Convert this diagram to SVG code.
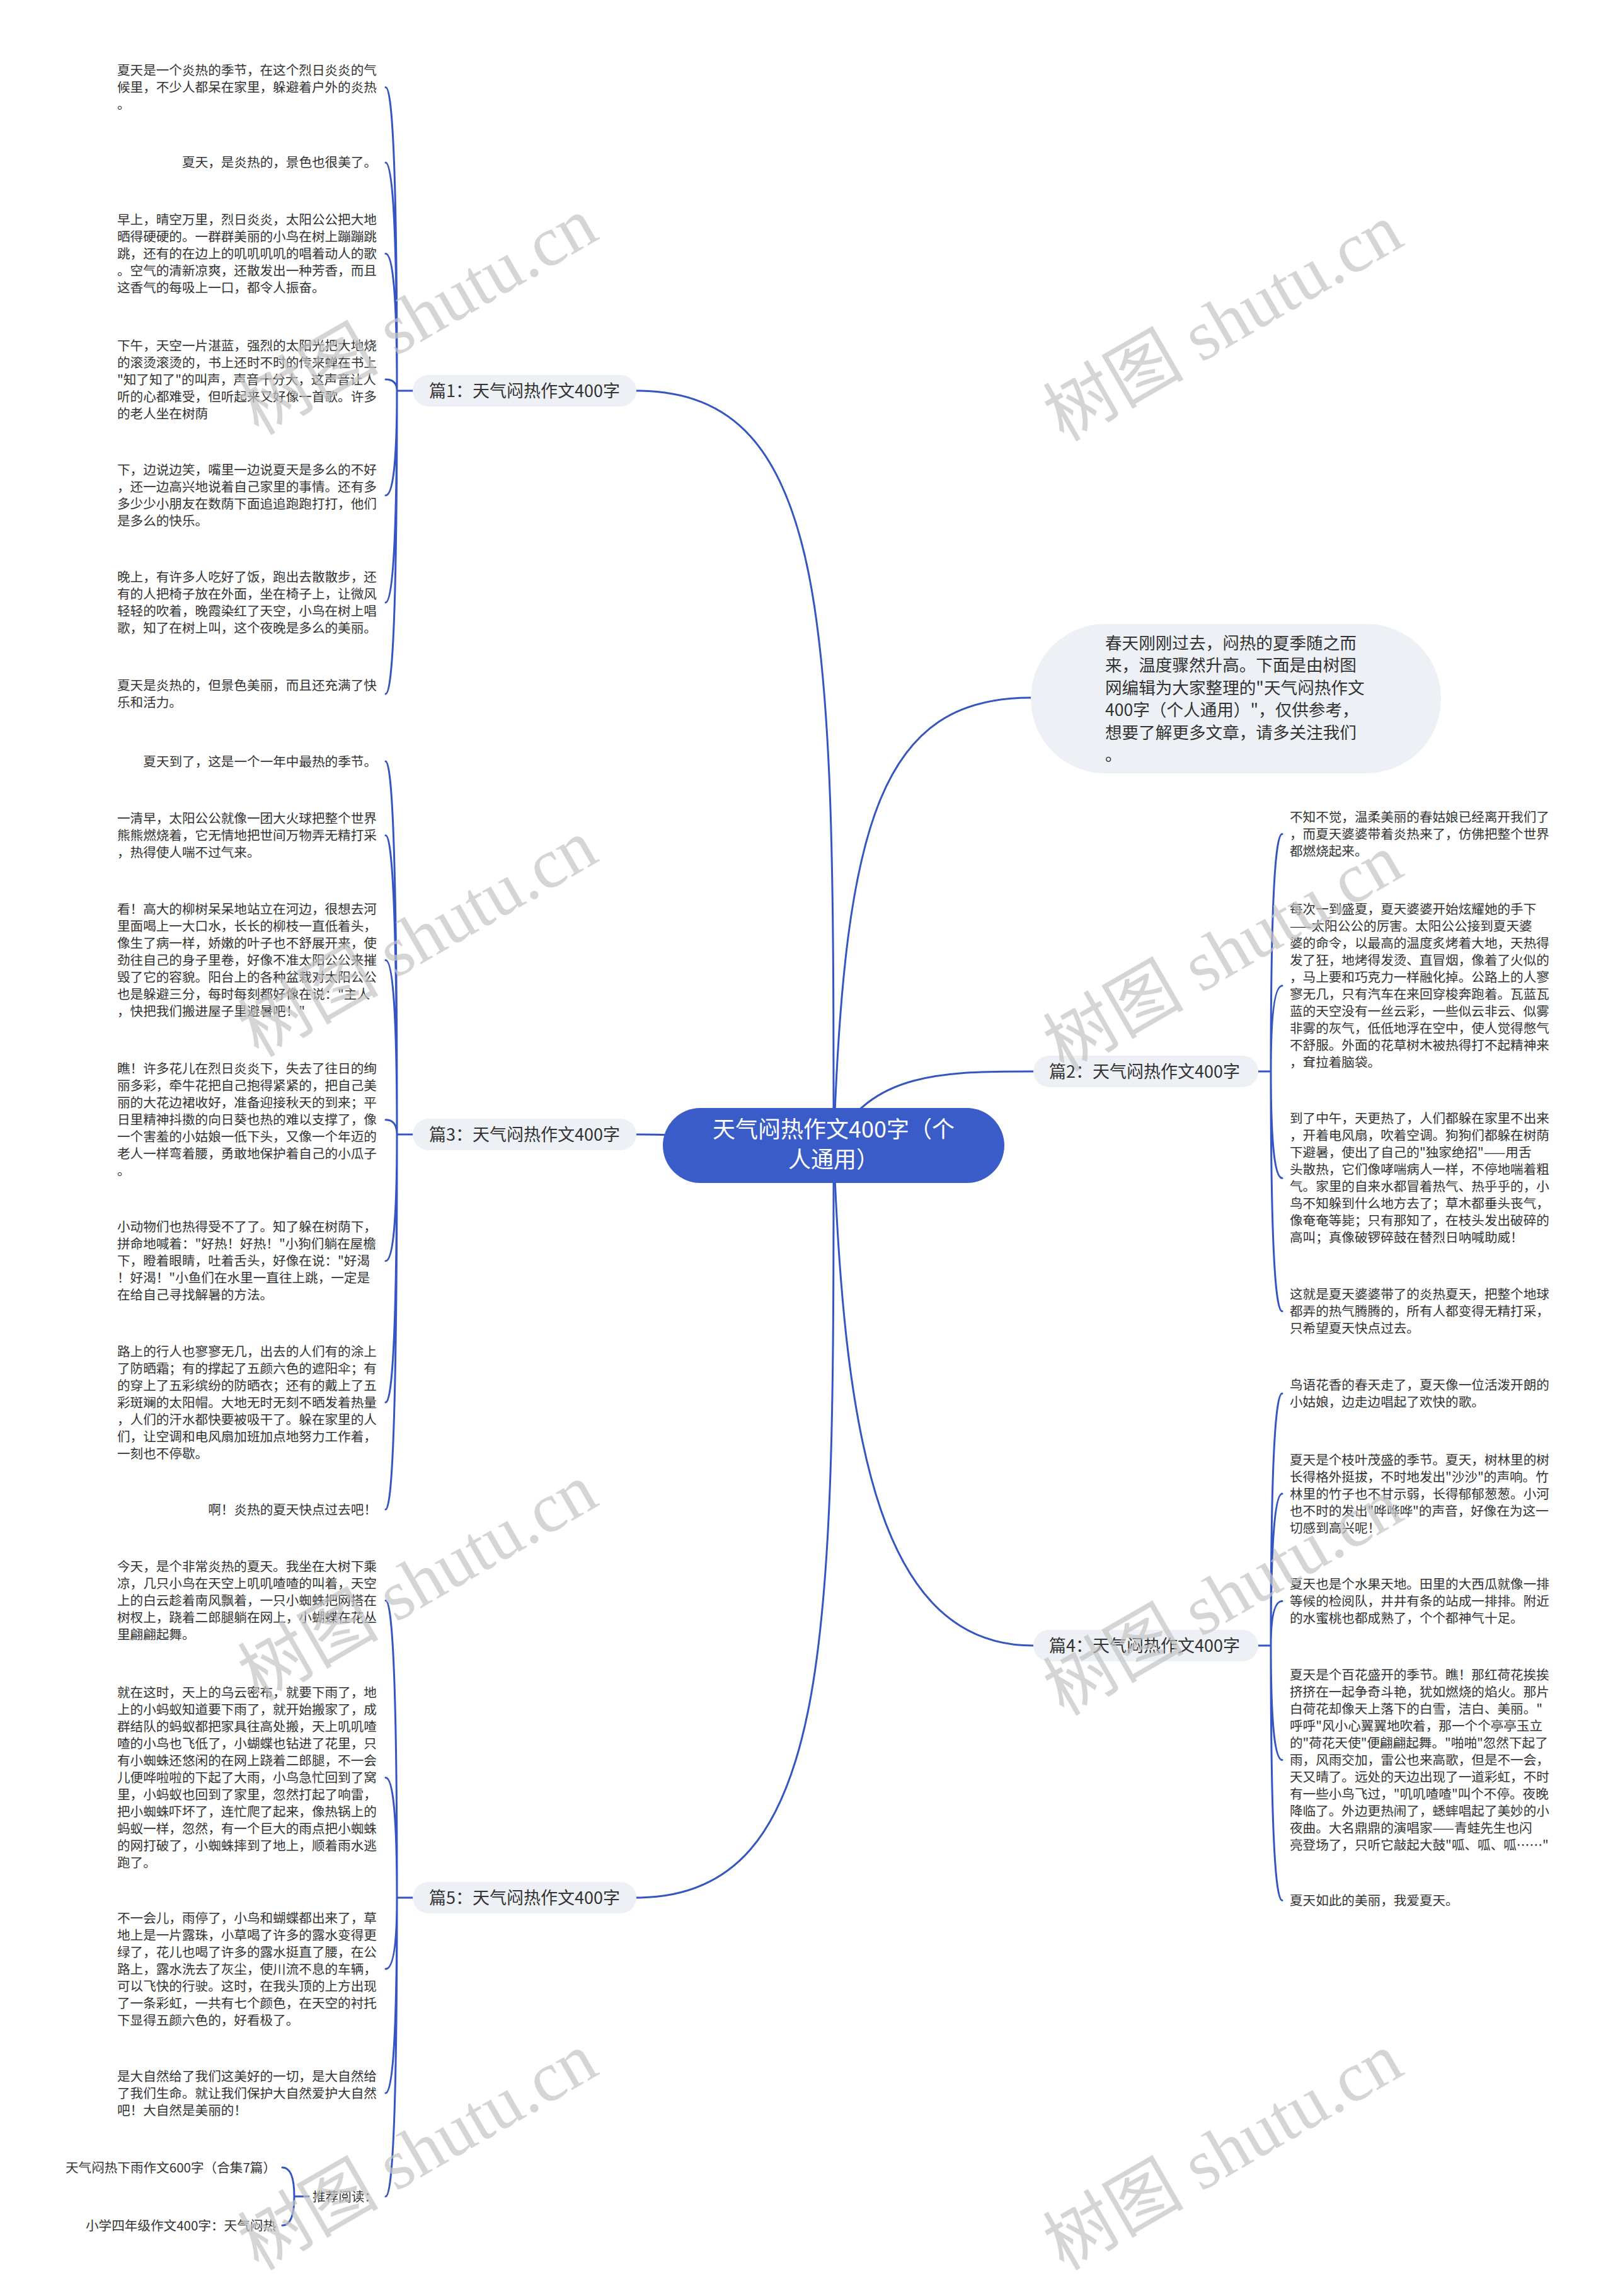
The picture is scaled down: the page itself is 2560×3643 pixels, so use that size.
<svg xmlns="http://www.w3.org/2000/svg" width="2560" height="3643" viewBox="0 0 2560 3643">
<style>
text{font-family:"Noto Sans CJK SC","Noto Sans",sans-serif}
.t{font-size:20.6px;fill:#333}
.b{font-size:27px;fill:#333}
.r{font-size:36px;fill:#fff}
.i{font-size:26.6px;fill:#333}
.c{fill:none;stroke:#3555c2;stroke-width:3;stroke-linecap:round}
.pill{fill:#edf0f5}
.wm{font-family:"Liberation Serif","Noto Sans CJK SC",serif;font-size:112px;fill:#c4c4c4;opacity:0.7}
</style>
<rect width="2560" height="3643" fill="#fff"/>
<g id="connectors">
<path class="c" d="M1323,1818 C1323,1000 1323,620 1010,620"/>
<path class="c" d="M1323,1818 C1200,1818 1150,1800 1010,1800"/>
<path class="c" d="M1323,1818 C1323,2600 1323,3011 1010,3011"/>
<path class="c" d="M1323,1818 C1340,1300 1400,1107 1636,1107"/>
<path class="c" d="M1323,1818 C1380,1700 1500,1700 1640,1700"/>
<path class="c" d="M1323,1818 C1340,2300 1400,2611 1640,2611"/>
<path class="c" d="M655,620 L630,620 M630,620 Q630,138.5 612,138.5 M630,620 Q630,258 612,258 M630,620 Q630,402.5 612,402.5 M630,620 Q630,602 612,602 M630,620 Q630,786 612,786 M630,620 Q630,956 612,956 M630,620 Q630,1101 612,1101"/>
<path class="c" d="M655,1800 L630,1800 M630,1800 Q630,1208 612,1208 M630,1800 Q630,1325.6 612,1325.6 M630,1800 Q630,1523.6 612,1523.6 M630,1800 Q630,1776.8 612,1776.8 M630,1800 Q630,2000.7 612,2000.7 M630,1800 Q630,2225.1 612,2225.1 M630,1800 Q630,2395 612,2395"/>
<path class="c" d="M655,3011 L630,3011 M630,3011 Q630,2539.6 612,2539.6 M630,3011 Q630,2820.4 612,2820.4 M630,3011 Q630,3124.1 612,3124.1 M630,3011 Q630,3321 612,3321 M630,3011 Q630,3485 612,3485"/>
<path class="c" d="M490,3485 L467,3485 M467,3485 Q467,3439 448,3439 M467,3485 Q467,3531 448,3531"/>
<path class="c" d="M1997,1700 L2017,1700 M2017,1700 Q2017,1323.2 2035,1323.2 M2017,1700 Q2017,1564.1 2035,1564.1 M2017,1700 Q2017,1869.3 2035,1869.3 M2017,1700 Q2017,2080.5 2035,2080.5"/>
<path class="c" d="M1997,2611 L2017,2611 M2017,2611 Q2017,2211.1 2035,2211.1 M2017,2611 Q2017,2370 2035,2370 M2017,2611 Q2017,2540.5 2035,2540.5 M2017,2611 Q2017,2792.5 2035,2792.5 M2017,2611 Q2017,3015.3 2035,3015.3"/>
</g>
<g id="root">
<rect x="1052" y="1758" width="542" height="119" rx="59.5" fill="#3a5cc8"/>
<text class="r" x="1323" y="1805" text-anchor="middle">天气闷热作文400字（个</text>
<text class="r" x="1323" y="1853" text-anchor="middle">人通用）</text>
</g>
<g id="intro">
<rect class="pill" x="1636" y="990" width="651" height="237" rx="118"/>
<text class="i" x="1754" y="1030"><tspan x="1754" dy="0">春天刚刚过去，闷热的夏季随之而</tspan><tspan x="1754" dy="35.4">来，温度骤然升高。下面是由树图</tspan><tspan x="1754" dy="35.4">网编辑为大家整理的"天气闷热作文</tspan><tspan x="1754" dy="35.4">400字（个人通用）"，仅供参考，</tspan><tspan x="1754" dy="35.4">想要了解更多文章，请多关注我们</tspan><tspan x="1754" dy="35.4">。</tspan></text>
</g>
<g id="b1">
<rect class="pill" x="655" y="595" width="355" height="50" rx="25"/>
<text class="b" x="681" y="630">篇1：天气闷热作文400字</text>
</g>
<g id="b3">
<rect class="pill" x="655" y="1775" width="355" height="50" rx="25"/>
<text class="b" x="681" y="1810">篇3：天气闷热作文400字</text>
</g>
<g id="b5">
<rect class="pill" x="655" y="2986" width="355" height="50" rx="25"/>
<text class="b" x="681" y="3021">篇5：天气闷热作文400字</text>
</g>
<g id="b2">
<rect class="pill" x="1640" y="1675" width="357" height="50" rx="25"/>
<text class="b" x="1665" y="1710">篇2：天气闷热作文400字</text>
</g>
<g id="b4">
<rect class="pill" x="1640" y="2586" width="357" height="50" rx="25"/>
<text class="b" x="1665" y="2621">篇4：天气闷热作文400字</text>
</g>
<g id="b1-1"><text class="t" x="186" y="119"><tspan x="186" dy="0">夏天是一个炎热的季节，在这个烈日炎炎的气</tspan><tspan x="186" dy="27">候里，不少人都呆在家里，躲避着户外的炎热</tspan><tspan x="186" dy="27">。</tspan></text></g>
<g id="b1-2"><text class="t" x="598" y="265.4" text-anchor="end">夏天，是炎热的，景色也很美了。</text></g>
<g id="b1-3"><text class="t" x="186" y="356"><tspan x="186" dy="0">早上，晴空万里，烈日炎炎，太阳公公把大地</tspan><tspan x="186" dy="27">晒得硬硬的。一群群美丽的小鸟在树上蹦蹦跳</tspan><tspan x="186" dy="27">跳，还有的在边上的叽叽叽叽的唱着动人的歌</tspan><tspan x="186" dy="27">。空气的清新凉爽，还散发出一种芳香，而且</tspan><tspan x="186" dy="27">这香气的每吸上一口，都令人振奋。</tspan></text></g>
<g id="b1-4"><text class="t" x="186" y="555.7"><tspan x="186" dy="0">下午，天空一片湛蓝，强烈的太阳光把大地烧</tspan><tspan x="186" dy="27">的滚烫滚烫的，书上还时不时的传来蝉在书上</tspan><tspan x="186" dy="27">"知了知了"的叫声，声音十分大，这声音让人</tspan><tspan x="186" dy="27">听的心都难受，但听起来又好像一首歌。许多</tspan><tspan x="186" dy="27">的老人坐在树荫</tspan></text></g>
<g id="b1-5"><text class="t" x="186" y="753.2"><tspan x="186" dy="0">下，边说边笑，嘴里一边说夏天是多么的不好</tspan><tspan x="186" dy="27">，还一边高兴地说着自己家里的事情。还有多</tspan><tspan x="186" dy="27">多少少小朋友在数荫下面追追跑跑打打，他们</tspan><tspan x="186" dy="27">是多么的快乐。</tspan></text></g>
<g id="b1-6"><text class="t" x="186" y="922.8"><tspan x="186" dy="0">晚上，有许多人吃好了饭，跑出去散散步，还</tspan><tspan x="186" dy="27">有的人把椅子放在外面，坐在椅子上，让微风</tspan><tspan x="186" dy="27">轻轻的吹着，晚霞染红了天空，小鸟在树上唱</tspan><tspan x="186" dy="27">歌，知了在树上叫，这个夜晚是多么的美丽。</tspan></text></g>
<g id="b1-7"><text class="t" x="186" y="1094.7"><tspan x="186" dy="0">夏天是炎热的，但景色美丽，而且还充满了快</tspan><tspan x="186" dy="27">乐和活力。</tspan></text></g>
<g id="b3-1"><text class="t" x="598" y="1215.5" text-anchor="end">夏天到了，这是一个一年中最热的季节。</text></g>
<g id="b3-2"><text class="t" x="186" y="1306"><tspan x="186" dy="0">一清早，太阳公公就像一团大火球把整个世界</tspan><tspan x="186" dy="27">熊熊燃烧着，它无情地把世间万物弄无精打采</tspan><tspan x="186" dy="27">，热得使人喘不过气来。</tspan></text></g>
<g id="b3-3"><text class="t" x="186" y="1450"><tspan x="186" dy="0">看！高大的柳树呆呆地站立在河边，很想去河</tspan><tspan x="186" dy="27">里面喝上一大口水，长长的柳枝一直低着头，</tspan><tspan x="186" dy="27">像生了病一样，娇嫩的叶子也不舒展开来，使</tspan><tspan x="186" dy="27">劲往自己的身子里卷，好像不准太阳公公来摧</tspan><tspan x="186" dy="27">毁了它的容貌。阳台上的各种盆栽对太阳公公</tspan><tspan x="186" dy="27">也是躲避三分，每时每刻都好像在说："主人</tspan><tspan x="186" dy="27">，快把我们搬进屋子里避暑吧！"</tspan></text></g>
<g id="b3-4"><text class="t" x="186" y="1703"><tspan x="186" dy="0">瞧！许多花儿在烈日炎炎下，失去了往日的绚</tspan><tspan x="186" dy="27">丽多彩，牵牛花把自己抱得紧紧的，把自己美</tspan><tspan x="186" dy="27">丽的大花边裙收好，准备迎接秋天的到来；平</tspan><tspan x="186" dy="27">日里精神抖擞的向日葵也热的难以支撑了，像</tspan><tspan x="186" dy="27">一个害羞的小姑娘一低下头，又像一个年迈的</tspan><tspan x="186" dy="27">老人一样弯着腰，勇敢地保护着自己的小瓜子</tspan><tspan x="186" dy="27">。</tspan></text></g>
<g id="b3-5"><text class="t" x="186" y="1954"><tspan x="186" dy="0">小动物们也热得受不了了。知了躲在树荫下，</tspan><tspan x="186" dy="27">拼命地喊着："好热！好热！"小狗们躺在屋檐</tspan><tspan x="186" dy="27">下，瞪着眼睛，吐着舌头，好像在说："好渴</tspan><tspan x="186" dy="27">！好渴！"小鱼们在水里一直往上跳，一定是</tspan><tspan x="186" dy="27">在给自己寻找解暑的方法。</tspan></text></g>
<g id="b3-6"><text class="t" x="186" y="2151.5"><tspan x="186" dy="0">路上的行人也寥寥无几，出去的人们有的涂上</tspan><tspan x="186" dy="27">了防晒霜；有的撑起了五颜六色的遮阳伞；有</tspan><tspan x="186" dy="27">的穿上了五彩缤纷的防晒衣；还有的戴上了五</tspan><tspan x="186" dy="27">彩斑斓的太阳帽。大地无时无刻不晒发着热量</tspan><tspan x="186" dy="27">，人们的汗水都快要被吸干了。躲在家里的人</tspan><tspan x="186" dy="27">们，让空调和电风扇加班加点地努力工作着，</tspan><tspan x="186" dy="27">一刻也不停歇。</tspan></text></g>
<g id="b3-7"><text class="t" x="598" y="2402.5" text-anchor="end">啊！炎热的夏天快点过去吧！</text></g>
<g id="b5-1"><text class="t" x="186" y="2493"><tspan x="186" dy="0">今天，是个非常炎热的夏天。我坐在大树下乘</tspan><tspan x="186" dy="27">凉，几只小鸟在天空上叽叽喳喳的叫着，天空</tspan><tspan x="186" dy="27">上的白云趁着南风飘着，一只小蜘蛛把网搭在</tspan><tspan x="186" dy="27">树杈上，跷着二郎腿躺在网上，小蝴蝶在花丛</tspan><tspan x="186" dy="27">里翩翩起舞。</tspan></text></g>
<g id="b5-2"><text class="t" x="186" y="2693"><tspan x="186" dy="0">就在这时，天上的乌云密布，就要下雨了，地</tspan><tspan x="186" dy="27">上的小蚂蚁知道要下雨了，就开始搬家了，成</tspan><tspan x="186" dy="27">群结队的蚂蚁都把家具往高处搬，天上叽叽喳</tspan><tspan x="186" dy="27">喳的小鸟也飞低了，小蝴蝶也钻进了花里，只</tspan><tspan x="186" dy="27">有小蜘蛛还悠闲的在网上跷着二郎腿，不一会</tspan><tspan x="186" dy="27">儿便哗啦啦的下起了大雨，小鸟急忙回到了窝</tspan><tspan x="186" dy="27">里，小蚂蚁也回到了家里，忽然打起了响雷，</tspan><tspan x="186" dy="27">把小蜘蛛吓坏了，连忙爬了起来，像热锅上的</tspan><tspan x="186" dy="27">蚂蚁一样，忽然，有一个巨大的雨点把小蜘蛛</tspan><tspan x="186" dy="27">的网打破了，小蜘蛛摔到了地上，顺着雨水逃</tspan><tspan x="186" dy="27">跑了。</tspan></text></g>
<g id="b5-3"><text class="t" x="186" y="3050.5"><tspan x="186" dy="0">不一会儿，雨停了，小鸟和蝴蝶都出来了，草</tspan><tspan x="186" dy="27">地上是一片露珠，小草喝了许多的露水变得更</tspan><tspan x="186" dy="27">绿了，花儿也喝了许多的露水挺直了腰，在公</tspan><tspan x="186" dy="27">路上，露水洗去了灰尘，使川流不息的车辆，</tspan><tspan x="186" dy="27">可以飞快的行驶。这时，在我头顶的上方出现</tspan><tspan x="186" dy="27">了一条彩虹，一共有七个颜色，在天空的衬托</tspan><tspan x="186" dy="27">下显得五颜六色的，好看极了。</tspan></text></g>
<g id="b5-4"><text class="t" x="186" y="3301.5"><tspan x="186" dy="0">是大自然给了我们这美好的一切，是大自然给</tspan><tspan x="186" dy="27">了我们生命。就让我们保护大自然爱护大自然</tspan><tspan x="186" dy="27">吧！大自然是美丽的！</tspan></text></g>
<g id="b5-5"><text class="t" x="496" y="3492.5">推荐阅读：</text></g>
<g id="b5-5-1"><text class="t" x="438" y="3446.5" text-anchor="end">天气闷热下雨作文600字（合集7篇）</text></g>
<g id="b5-5-2"><text class="t" x="438" y="3538.5" text-anchor="end">小学四年级作文400字：天气闷热</text></g>
<g id="b2-1"><text class="t" x="2047" y="1303.7"><tspan x="2047" dy="0">不知不觉，温柔美丽的春姑娘已经离开我们了</tspan><tspan x="2047" dy="27">，而夏天婆婆带着炎热来了，仿佛把整个世界</tspan><tspan x="2047" dy="27">都燃烧起来。</tspan></text></g>
<g id="b2-2"><text class="t" x="2047" y="1450"><tspan x="2047" dy="0">每次一到盛夏，夏天婆婆开始炫耀她的手下</tspan><tspan x="2047" dy="27">——太阳公公的厉害。太阳公公接到夏天婆</tspan><tspan x="2047" dy="27">婆的命令，以最高的温度炙烤着大地，天热得</tspan><tspan x="2047" dy="27">发了狂，地烤得发烫、直冒烟，像着了火似的</tspan><tspan x="2047" dy="27">，马上要和巧克力一样融化掉。公路上的人寥</tspan><tspan x="2047" dy="27">寥无几，只有汽车在来回穿梭奔跑着。瓦蓝瓦</tspan><tspan x="2047" dy="27">蓝的天空没有一丝云彩，一些似云非云、似雾</tspan><tspan x="2047" dy="27">非雾的灰气，低低地浮在空中，使人觉得憋气</tspan><tspan x="2047" dy="27">不舒服。外面的花草树木被热得打不起精神来</tspan><tspan x="2047" dy="27">，耷拉着脑袋。</tspan></text></g>
<g id="b2-3"><text class="t" x="2047" y="1782.3"><tspan x="2047" dy="0">到了中午，天更热了，人们都躲在家里不出来</tspan><tspan x="2047" dy="27">，开着电风扇，吹着空调。狗狗们都躲在树荫</tspan><tspan x="2047" dy="27">下避暑，使出了自己的"独家绝招"——用舌</tspan><tspan x="2047" dy="27">头散热，它们像哮喘病人一样，不停地喘着粗</tspan><tspan x="2047" dy="27">气。家里的自来水都冒着热气、热乎乎的，小</tspan><tspan x="2047" dy="27">鸟不知躲到什么地方去了；草木都垂头丧气，</tspan><tspan x="2047" dy="27">像奄奄等毙；只有那知了，在枝头发出破碎的</tspan><tspan x="2047" dy="27">高叫；真像破锣碎鼓在替烈日呐喊助威！</tspan></text></g>
<g id="b2-4"><text class="t" x="2047" y="2061"><tspan x="2047" dy="0">这就是夏天婆婆带了的炎热夏天，把整个地球</tspan><tspan x="2047" dy="27">都弄的热气腾腾的，所有人都变得无精打采，</tspan><tspan x="2047" dy="27">只希望夏天快点过去。</tspan></text></g>
<g id="b4-1"><text class="t" x="2047" y="2205"><tspan x="2047" dy="0">鸟语花香的春天走了，夏天像一位活泼开朗的</tspan><tspan x="2047" dy="27">小姑娘，边走边唱起了欢快的歌。</tspan></text></g>
<g id="b4-2"><text class="t" x="2047" y="2323.5"><tspan x="2047" dy="0">夏天是个枝叶茂盛的季节。夏天，树林里的树</tspan><tspan x="2047" dy="27">长得格外挺拔，不时地发出"沙沙"的声响。竹</tspan><tspan x="2047" dy="27">林里的竹子也不甘示弱，长得郁郁葱葱。小河</tspan><tspan x="2047" dy="27">也不时的发出"哗哗哗"的声音，好像在为这一</tspan><tspan x="2047" dy="27">切感到高兴呢！</tspan></text></g>
<g id="b4-3"><text class="t" x="2047" y="2521"><tspan x="2047" dy="0">夏天也是个水果天地。田里的大西瓜就像一排</tspan><tspan x="2047" dy="27">等候的检阅队，井井有条的站成一排排。附近</tspan><tspan x="2047" dy="27">的水蜜桃也都成熟了，个个都神气十足。</tspan></text></g>
<g id="b4-4"><text class="t" x="2047" y="2665"><tspan x="2047" dy="0">夏天是个百花盛开的季节。瞧！那红荷花挨挨</tspan><tspan x="2047" dy="27">挤挤在一起争奇斗艳，犹如燃烧的焰火。那片</tspan><tspan x="2047" dy="27">白荷花却像天上落下的白雪，洁白、美丽。"</tspan><tspan x="2047" dy="27">呼呼"风小心翼翼地吹着，那一个个亭亭玉立</tspan><tspan x="2047" dy="27">的"荷花天使"便翩翩起舞。"啪啪"忽然下起了</tspan><tspan x="2047" dy="27">雨，风雨交加，雷公也来高歌，但是不一会，</tspan><tspan x="2047" dy="27">天又晴了。远处的天边出现了一道彩虹，不时</tspan><tspan x="2047" dy="27">有一些小鸟飞过，"叽叽喳喳"叫个不停。夜晚</tspan><tspan x="2047" dy="27">降临了。外边更热闹了，蟋蟀唱起了美妙的小</tspan><tspan x="2047" dy="27">夜曲。大名鼎鼎的演唱家——青蛙先生也闪</tspan><tspan x="2047" dy="27">亮登场了，只听它敲起大鼓"呱、呱、呱……"</tspan></text></g>
<g id="b4-5"><text class="t" x="2047" y="3022.8">夏天如此的美丽，我爱夏天。</text></g>
<g id="watermarks">
<text class="wm" x="662" y="540" text-anchor="middle" transform="rotate(-30 662 500)">树图 shutu.cn</text>
<text class="wm" x="1940" y="550" text-anchor="middle" transform="rotate(-30 1940 510)">树图 shutu.cn</text>
<text class="wm" x="662" y="1527" text-anchor="middle" transform="rotate(-30 662 1487)">树图 shutu.cn</text>
<text class="wm" x="1940" y="1550" text-anchor="middle" transform="rotate(-30 1940 1510)">树图 shutu.cn</text>
<text class="wm" x="662" y="2549" text-anchor="middle" transform="rotate(-30 662 2509)">树图 shutu.cn</text>
<text class="wm" x="1940" y="2572" text-anchor="middle" transform="rotate(-30 1940 2532)">树图 shutu.cn</text>
<text class="wm" x="662" y="3452" text-anchor="middle" transform="rotate(-30 662 3412)">树图 shutu.cn</text>
<text class="wm" x="1940" y="3452" text-anchor="middle" transform="rotate(-30 1940 3412)">树图 shutu.cn</text>
</g>
</svg>
